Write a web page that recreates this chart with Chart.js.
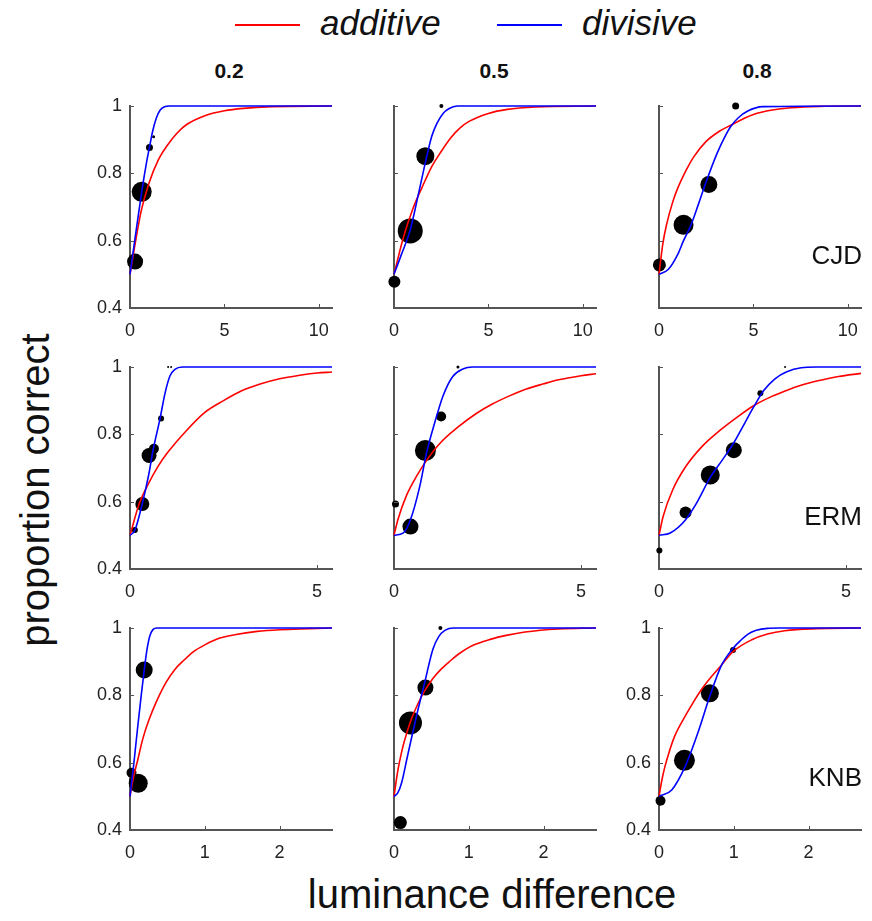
<!DOCTYPE html>
<html>
<head>
<meta charset="utf-8">
<script src="https://cdn.jsdelivr.net/npm/chart.js@4/dist/chart.umd.min.js"></script>
<style>
    body { margin: 0; background: #fff; }
    #wrap { position: relative; width: 872px; height: 921px; font-family: "Liberation Sans", Arial, sans-serif; color: #111; }
    #wrap canvas { position: absolute; }
    .txt { position: absolute; white-space: nowrap; line-height: 1; }
    .legLine { position: absolute; height: 2px; }
</style>
</head>
<body>
<div id="wrap">
    <div class="legLine" style="left:235px;top:24px;width:65px;background:#ff0000"></div>
    <div class="txt" style="left:320px;top:5px;font-size:35px;font-style:italic">additive</div>
    <div class="legLine" style="left:497px;top:24px;width:65px;background:#0000ff"></div>
    <div class="txt" style="left:582px;top:5px;font-size:35px;font-style:italic">divisive</div>

    <div class="txt" style="left:229px;top:60px;font-size:21px;font-weight:bold;transform:translateX(-50%)">0.2</div>
    <div class="txt" style="left:494px;top:60px;font-size:21px;font-weight:bold;transform:translateX(-50%)">0.5</div>
    <div class="txt" style="left:757px;top:60px;font-size:21px;font-weight:bold;transform:translateX(-50%)">0.8</div>

    <div class="txt" style="left:492px;top:874px;font-size:40px;transform:translateX(-50%)">luminance difference</div>
    <div class="txt" style="left:35px;top:490px;font-size:40px;transform:translate(-50%,-50%) rotate(-90deg)">proportion correct</div>
</div>
<script>
// subjects (rows) and contrast levels (columns)
const subjects = ["CJD", "ERM", "KNB"];
const contrasts = ["0.2", "0.5", "0.8"];
const xMaxByRow = [10.7, 5.4, 2.7];
const xStepByRow = [5, 5, 1];
const yTicks = [0.4, 0.6, 0.8, 1];

// CJD
const cjd2Dots = [[0.27, 0.538], [0.62, 0.745], [1.03, 0.877], [1.25, 0.909]];
const cjd2Size = [8, 10, 3.5, 1.5];
const cjd2Add = [[0, 0.5], [0.3, 0.6], [0.6, 0.69], [1, 0.77], [1.5, 0.84], [2, 0.885], [2.5, 0.92], [3, 0.945], [4, 0.972], [5, 0.986], [6, 0.993], [7.5, 0.998], [10.7, 1]];
const cjd2Div = [[0, 0.5], [0.3, 0.62], [0.62, 0.745], [0.9, 0.84], [1.03, 0.877], [1.2, 0.925], [1.4, 0.965], [1.6, 0.988], [1.8, 0.997], [2.1, 1], [10.7, 1]];

const cjd5Dots = [[0.02, 0.478], [0.86, 0.629], [1.66, 0.851], [2.51, 1.0]];
const cjd5Size = [6, 12.5, 9, 2];
const cjd5Add = [[0, 0.5], [0.5, 0.61], [1, 0.695], [1.5, 0.76], [2, 0.82], [2.5, 0.865], [3, 0.905], [3.5, 0.935], [4, 0.955], [5, 0.978], [6, 0.99], [7.5, 0.997], [10.7, 1]];
const cjd5Div = [[0, 0.5], [0.4, 0.56], [0.86, 0.632], [1.3, 0.74], [1.75, 0.854], [2.0, 0.91], [2.28, 0.949], [2.6, 0.978], [2.9, 0.992], [3.35, 1], [10.7, 1]];

const cjd8Dots = [[0.02, 0.528], [1.3, 0.647], [2.64, 0.767], [4.06, 1.0]];
const cjd8Size = [6.5, 10, 8.5, 3.5];
const cjd8Add = [[0, 0.5], [0.2, 0.59], [0.41, 0.65], [0.7, 0.71], [0.95, 0.75], [1.4, 0.805], [1.84, 0.849], [2.5, 0.895], [3.2, 0.925], [3.8, 0.943], [4.5, 0.963], [5, 0.975], [6, 0.988], [7, 0.995], [8.5, 0.999], [10.7, 1]];
const cjd8Div = [[0, 0.5], [0.5, 0.515], [1, 0.56], [1.3, 0.6], [1.66, 0.642], [2.1, 0.71], [2.5, 0.775], [3.08, 0.86], [3.5, 0.91], [3.8, 0.939], [4.2, 0.965], [4.7, 0.985], [5.5, 0.998], [10.7, 1]];

// ERM
const erm2Dots = [[0.13, 0.516], [0.33, 0.593], [0.51, 0.737], [0.64, 0.757], [0.83, 0.847], [1.02, 1.0], [1.1, 1.0]];
const erm2Size = [3, 7, 7.5, 5, 3, 1, 1];
const erm2Add = [[0, 0.5], [0.25, 0.595], [0.5, 0.655], [0.75, 0.705], [1, 0.745], [1.5, 0.81], [2, 0.865], [2.5, 0.9], [3, 0.93], [3.5, 0.95], [4, 0.965], [4.5, 0.975], [5, 0.982], [5.4, 0.985]];
const erm2Div = [[0, 0.5], [0.13, 0.515], [0.33, 0.595], [0.5, 0.68], [0.62, 0.755], [0.8, 0.845], [0.94, 0.924], [1.07, 0.974], [1.2, 0.993], [1.4, 1], [5.4, 1]];

const erm5Dots = [[0.04, 0.593], [0.44, 0.526], [0.84, 0.752], [1.26, 0.853], [1.71, 1.0]];
const erm5Size = [3.5, 8, 10.5, 5, 1.5];
const erm5Add = [[0, 0.5], [0.1, 0.545], [0.34, 0.62], [0.6, 0.675], [0.83, 0.716], [1.2, 0.77], [1.75, 0.825], [2.2, 0.862], [2.63, 0.89], [3.1, 0.915], [3.52, 0.934], [4, 0.95], [4.4, 0.962], [5, 0.974], [5.4, 0.98]];
const erm5Div = [[0, 0.5], [0.25, 0.507], [0.44, 0.546], [0.69, 0.646], [0.87, 0.745], [1.09, 0.835], [1.31, 0.914], [1.57, 0.972], [1.84, 0.994], [2.1, 1], [5.4, 1]];

const erm8Dots = [[0.01, 0.455], [0.71, 0.568], [1.37, 0.679], [2.0, 0.753], [2.71, 0.922], [3.37, 1.0]];
const erm8Size = [3, 6, 9.5, 8, 3, 1];
const erm8Add = [[0, 0.5], [0.11, 0.556], [0.37, 0.636], [0.72, 0.705], [1.16, 0.765], [1.61, 0.81], [2.1, 0.852], [2.53, 0.885], [3, 0.912], [3.37, 0.929], [3.8, 0.946], [4.25, 0.959], [4.8, 0.972], [5.4, 0.981]];
const erm8Div = [[0, 0.5], [0.3, 0.507], [0.7, 0.545], [1.0, 0.595], [1.37, 0.672], [1.7, 0.725], [2.0, 0.775], [2.3, 0.835], [2.55, 0.885], [2.8, 0.93], [3.1, 0.965], [3.4, 0.985], [3.8, 0.998], [4.2, 1], [5.4, 1]];

// KNB
const knb2Dots = [[0.02, 0.57], [0.11, 0.539], [0.19, 0.875]];
const knb2Size = [5, 9.5, 8.5];
const knb2Add = [[0, 0.5], [0.05, 0.56], [0.1, 0.605], [0.17, 0.67], [0.25, 0.725], [0.35, 0.78], [0.48, 0.838], [0.6, 0.877], [0.7, 0.9], [0.85, 0.93], [1, 0.95], [1.2, 0.97], [1.4, 0.98], [1.7, 0.99], [2, 0.995], [2.4, 0.998], [2.7, 1]];
const knb2Div = [[0, 0.5], [0.05, 0.595], [0.1, 0.7], [0.15, 0.8], [0.19, 0.875], [0.23, 0.94], [0.27, 0.98], [0.31, 0.996], [0.36, 1], [2.7, 1]];

const knb5Dots = [[0.085, 0.422], [0.22, 0.718], [0.42, 0.823], [0.62, 1.0]];
const knb5Size = [6.5, 11.5, 8, 2];
const knb5Add = [[0, 0.5], [0.05, 0.575], [0.1, 0.63], [0.14, 0.665], [0.23, 0.728], [0.32, 0.775], [0.41, 0.813], [0.52, 0.85], [0.63, 0.878], [0.75, 0.902], [0.86, 0.922], [1.05, 0.948], [1.3, 0.967], [1.5, 0.978], [1.75, 0.988], [2.2, 0.997], [2.7, 1]];
const knb5Div = [[0, 0.5], [0.05, 0.51], [0.1, 0.539], [0.18, 0.619], [0.3, 0.738], [0.41, 0.838], [0.52, 0.937], [0.6, 0.975], [0.68, 0.993], [0.8, 1], [2.7, 1]];

const knb8Dots = [[0.02, 0.487], [0.34, 0.607], [0.68, 0.806], [0.99, 0.935]];
const knb8Size = [5, 10.5, 9, 3];
const knb8Add = [[0, 0.5], [0.04, 0.55], [0.08, 0.589], [0.14, 0.635], [0.21, 0.679], [0.35, 0.738], [0.46, 0.78], [0.57, 0.818], [0.68, 0.85], [0.79, 0.878], [0.99, 0.93], [1.24, 0.965], [1.45, 0.982], [1.68, 0.992], [2.1, 0.998], [2.7, 1]];
const knb8Div = [[0, 0.5], [0.17, 0.519], [0.35, 0.589], [0.52, 0.689], [0.68, 0.798], [0.83, 0.887], [0.99, 0.94], [1.1, 0.965], [1.19, 0.982], [1.3, 0.993], [1.45, 0.999], [1.6, 1], [2.7, 1]];

const panelData = [
    [[cjd2Dots, cjd2Size, cjd2Add, cjd2Div], [cjd5Dots, cjd5Size, cjd5Add, cjd5Div], [cjd8Dots, cjd8Size, cjd8Add, cjd8Div]],
    [[erm2Dots, erm2Size, erm2Add, erm2Div], [erm5Dots, erm5Size, erm5Add, erm5Div], [erm8Dots, erm8Size, erm8Add, erm8Div]],
    [[knb2Dots, knb2Size, knb2Add, knb2Div], [knb5Dots, knb5Size, knb5Add, knb5Div], [knb8Dots, knb8Size, knb8Add, knb8Div]]
];

// plot area geometry (pixels on the page)
const plotLefts = [130, 394, 659];
const plotTops = [106, 367, 628];
const plotW = 202;
const plotH = 202;
const axisW = 50;   // room for y tick labels
const axisH = 40;   // room for x tick labels
const padTop = 24;  // big enough that the "1" label never pushes the plot down
const padRight = 14;

const axisColor = "#555";
const tickFont = { family: "Liberation Sans, Arial, sans-serif", size: 18 };

function toXY(pairs) {
    return pairs.map(p => ({ x: p[0], y: p[1] }));
}

// MATLAB style ticks pointing into the plot
const inwardTicks = {
    id: "inwardTicks",
    afterDraw(chart) {
        const ctx = chart.ctx;
        const area = chart.chartArea;
        const xs = chart.scales.x;
        const ys = chart.scales.y;
        ctx.save();
        ctx.strokeStyle = axisColor;
        ctx.lineWidth = 1;
        xs.ticks.forEach(t => {
            const px = Math.round(xs.getPixelForValue(t.value)) + 0.5;
            ctx.beginPath();
            ctx.moveTo(px, area.bottom);
            ctx.lineTo(px, area.bottom - 4);
            ctx.stroke();
        });
        ys.ticks.forEach(t => {
            const py = Math.round(ys.getPixelForValue(t.value)) + 0.5;
            ctx.beginPath();
            ctx.moveTo(area.left, py);
            ctx.lineTo(area.left + 4, py);
            ctx.stroke();
        });
        ctx.restore();
    }
};

function drawPanel(row, col) {
    const [dots, sizes, addCurve, divCurve] = panelData[row][col];
    const wrap = document.getElementById("wrap");
    const canvas = document.createElement("canvas");
    const w = axisW + plotW + padRight;
    const h = padTop + plotH + axisH;
    canvas.width = w;
    canvas.height = h;
    canvas.style.left = (plotLefts[col] - axisW) + "px";
    canvas.style.top = (plotTops[row] - padTop) + "px";
    wrap.appendChild(canvas);

    const showY = col === 0 || (row === 2 && col === 2);

    new Chart(canvas, {
        type: "scatter",
        data: {
            datasets: [
                {
                    label: "divisive",
                    type: "line",
                    data: toXY(divCurve),
                    borderColor: "#0000ff",
                    borderWidth: 1.6,
                    pointRadius: 0,
                    cubicInterpolationMode: "monotone",
                    fill: false,
                    clip: false
                },
                {
                    label: "additive",
                    type: "line",
                    data: toXY(addCurve),
                    borderColor: "#ff0000",
                    borderWidth: 1.6,
                    pointRadius: 0,
                    cubicInterpolationMode: "monotone",
                    fill: false,
                    clip: false
                },
                {
                    label: "data",
                    data: toXY(dots),
                    pointRadius: sizes,
                    pointBackgroundColor: "#000",
                    pointBorderWidth: 0,
                    pointBorderColor: "#000",
                    clip: false
                }
            ]
        },
        options: {
            responsive: false,
            animation: false,
            devicePixelRatio: 1,
            layout: { padding: { top: padTop, right: padRight, left: 0, bottom: 0 } },
            plugins: { legend: { display: false }, tooltip: { enabled: false } },
            events: [],
            scales: {
                x: {
                    type: "linear",
                    min: 0,
                    max: xMaxByRow[row],
                    grid: { display: false, drawTicks: false },
                    border: { display: true, color: axisColor, width: 2 },
                    ticks: {
                        stepSize: xStepByRow[row],
                        includeBounds: false,
                        maxRotation: 0,
                        padding: 12,
                        color: "#222",
                        font: tickFont
                    },
                    afterFit: s => { s.height = axisH; }
                },
                y: {
                    type: "linear",
                    min: yTicks[0],
                    max: yTicks[yTicks.length - 1],
                    grid: { display: false, drawTicks: false },
                    border: { display: true, color: axisColor, width: 2 },
                    ticks: {
                        stepSize: 0.2,
                        includeBounds: false,
                        display: showY,
                        padding: 8,
                        color: "#222",
                        font: tickFont,
                        callback: v => String(Math.round(v * 10) / 10)
                    },
                    afterFit: s => { s.width = axisW; }
                }
            }
        },
        plugins: [inwardTicks]
    });

    if (col === 2) {
        const lab = document.createElement("div");
        lab.className = "txt";
        lab.textContent = subjects[row];
        lab.style.fontSize = "26px";
        lab.style.right = (872 - 862) + "px";
        lab.style.top = (plotTops[row] + 136) + "px";
        wrap.appendChild(lab);
    }
}

for (let r = 0; r < subjects.length; r++) {
    for (let c = 0; c < contrasts.length; c++) {
        drawPanel(r, c);
    }
}
</script>
</body>
</html>
